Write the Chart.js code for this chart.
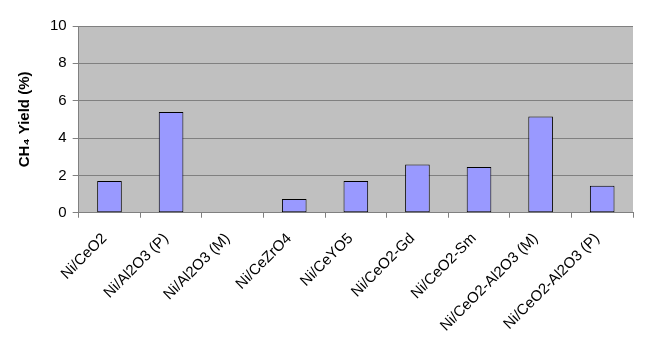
<!DOCTYPE html>
<html>
<head>
<meta charset="utf-8">
<script src="https://cdn.jsdelivr.net/npm/chart.js@4.4.0/dist/chart.umd.min.js"></script>
<style>
    html, body { margin: 0; padding: 0; background: #ffffff; }
    #wrap { width: 647px; height: 347px; }
</style>
</head>
<body>
<div id="wrap"><canvas id="ch4_yield"></canvas></div>
<script>
const catalysts = ["Ni/CeO2", "Ni/Al2O3 (P)", "Ni/Al2O3 (M)", "Ni/CeZrO4", "Ni/CeYO5",
    "Ni/CeO2-Gd", "Ni/CeO2-Sm", "Ni/CeO2-Al2O3 (M)", "Ni/CeO2-Al2O3 (P)"];
const ch4Yield = [1.7, 5.4, 0, 0.74, 1.7, 2.58, 2.45, 5.15, 1.44];
const yTicks = [0, 2, 4, 6, 8, 10];

// gray plot background, like the old Excel charts
const plotBackground = {
    id: 'plotBackground',
    beforeDraw(chart) {
        const {ctx, chartArea} = chart;
        ctx.save();
        ctx.fillStyle = '#c0c0c0';
        ctx.fillRect(chartArea.left, chartArea.top, chartArea.right - chartArea.left, chartArea.bottom - chartArea.top);
        ctx.restore();
    }
};

let ch4_yield = document.getElementById('ch4_yield').getContext('2d');
new Chart(ch4_yield, {
    type: 'bar',
    data: {
        labels: catalysts,
        datasets: [
            {
                backgroundColor: '#9999ff',
                borderColor: '#000000',
                borderWidth: 1,
                borderSkipped: false,
                data: ch4Yield,
                barPercentage: 0.4,
                categoryPercentage: 1.0,
            }
        ],
    },
    plugins: [plotBackground],
    options: {
        animation: false,
        responsive: true,
        maintainAspectRatio: false,
        layout: {
            padding: {top: 26, right: 14, left: 16, bottom: 0}
        },
        plugins: {
            legend: {display: false},
            tooltip: {enabled: false}
        },
        scales: {
            x: {
                grid: {
                    display: true,
                    drawOnChartArea: false,
                    drawTicks: true,
                    tickLength: 5,
                    color: '#808080',
                    offset: true
                },
                border: {color: '#808080', width: 1},
                ticks: {
                    maxRotation: 45,
                    minRotation: 45,
                    autoSkip: false,
                    color: '#000000',
                    padding: 12,
                    labelOffset: -5,
                    font: {family: 'Liberation Sans, Arial', size: 15}
                }
            },
            y: {
                min: 0,
                max: 10,
                afterBuildTicks: (axis) => { axis.ticks = yTicks.map(v => ({value: v})); },
                grid: {
                    color: '#808080',
                    tickLength: 6,
                    drawTicks: true
                },
                border: {color: '#808080', width: 1},
                ticks: {
                    color: '#000000',
                    padding: 6,
                    font: {family: 'Liberation Sans, Arial', size: 15}
                },
                title: {
                    display: true,
                    text: 'CH\u2084 Yield (%)',
                    color: '#000000',
                    padding: {top: 0, bottom: 10},
                    font: {family: 'Liberation Sans, Arial', size: 15, weight: 'bold'}
                }
            }
        }
    }
});
</script>
</body>
</html>
